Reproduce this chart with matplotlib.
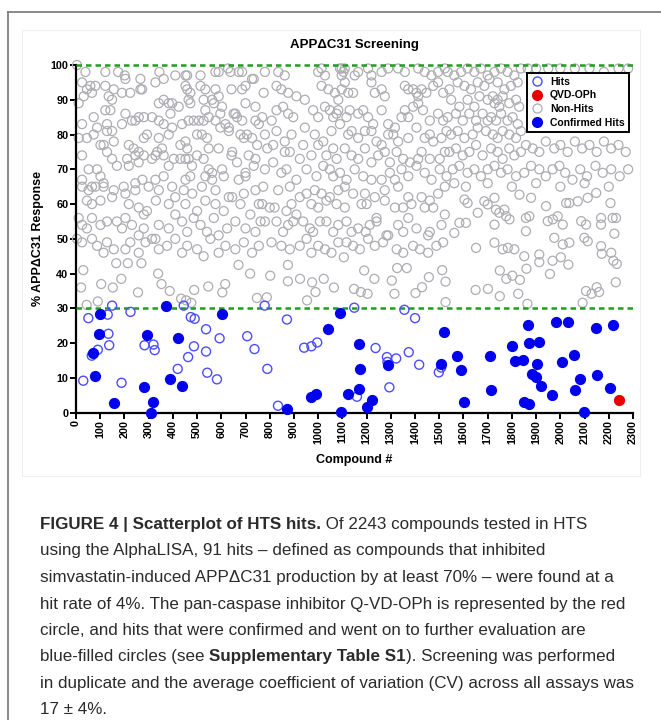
import matplotlib
matplotlib.use('Agg')
import matplotlib.pyplot as plt
from matplotlib.lines import Line2D
from matplotlib.patches import Rectangle
import numpy as np

# Non-hits (gray open circles) as (compound #, % response)
nonhits_top = [
    (4,100),(39,98),(121,98),(174,98),(201,97),(204,96),(266,96),(344,98),(410,97),(452,97),(459,97),(514,97),(576,98),(589,98),(628,99),(638,98),(672,98),(686,98),(734,96),
    (25,95),(45,93),(59,94),(80,94),(121,94),(135,91),(156,93),(190,92),(224,92),(266,93),(273,93),(328,95),(362,96),(452,94),(459,93),(472,92),(514,94),(534,93),(576,93),(589,91),(642,93),(686,93),(700,94),(727,96),
    (11,89),(32,91),(66,92),(121,87),(142,87),(149,90),(342,89),(362,90),(383,89),(397,89),(424,88),(465,90),(472,89),(527,90),(562,90),(569,89),(603,88),(596,86),(651,86),(665,85),(700,89),(741,88),
    (25,83),(73,85),(87,82),(128,83),(204,86),(231,84),(245,84),(259,85),(280,85),(314,85),(342,84),(362,83),(390,86),(438,83),(465,84),(486,84),(507,84),(527,84),(534,87),(548,85),(576,84),(596,82),(617,83),(631,82),(658,86),(686,84),(706,80),(741,84),(755,83),
    (11,79),(45,79),(73,80),(101,77),(114,77),(128,81),(149,81),(156,78),(190,83),(218,77),(238,76),(259,75),(280,79),(293,80),(328,74),(342,79),(355,76),(383,80),(397,82),(431,77),(452,78),(459,76),(500,80),(520,80),(541,79),(548,76),(589,76),(631,81),(645,75),(679,80),(693,79),(727,79),(748,77),
    (25,74),(52,70),(87,70),(101,68),(128,75),(149,73),(169,71),(211,73),(218,71),(245,74),(259,72),(280,74),(314,73),(335,75),(362,74),(383,71),(404,73),(431,73),(452,73),(465,73),(479,71),(500,74),(527,73),(548,70),(562,69),(603,70),(610,68),(642,74),(665,72),(700,69),(713,74),(734,71),(741,73),
    (25,67),(66,65),(114,65),(197,65),(245,66),(274,67),(328,67),(362,68),(452,67),(472,68),(534,68),(562,67),(672,67),(700,68),
    (780,98),(835,98),(862,97),(1000,98),(1014,99),(1028,97),(1090,99),(1097,99),(1104,98),(1110,99),(1097,97),(1151,97),(1165,98),(1206,99),(1220,97),(1262,98),(1289,99),(1330,99),(1358,98),(1413,99),(1440,98),(1468,97),(1495,98),(1523,99),
    (775,92),(828,94),(848,93),(876,92),(910,91),(945,90),(1014,94),(1042,93),(1069,92),(1083,90),(1097,93),(1110,95),(1124,92),(1144,92),(1220,95),(1234,92),(1262,93),(1275,91),(1358,94),(1372,93),(1392,93),(1406,92),(1413,91),(1427,93),(1447,92),(1475,94),(1495,95),(1516,92),
    (769,85),(808,84),(828,87),(855,88),(876,86),(897,85),(979,87),(1000,85),(1028,88),(1048,87),(1062,85),(1076,86),(1083,87),(1117,85),(1130,87),(1165,86),(1186,87),(1206,85),(1227,83),(1262,87),(1289,83),(1317,82),(1344,85),(1358,87),(1372,85),(1392,88),(1413,89),(1433,87),(1461,84),(1495,86),(1516,84),
    (780,80),(828,81),(862,78),(890,80),(945,82),(986,80),(1021,78),(1055,81),(1090,83),(1124,80),(1138,81),(1165,79),(1193,81),(1220,81),(1241,78),(1262,77),(1289,80),(1310,80),(1330,78),(1372,79),(1406,82),(1440,79),(1461,80),(1475,78),(1509,79),(1530,81),
    (790,76),(814,77),(862,75),(883,75),(924,73),(938,77),(972,74),(1000,77),(1034,74),(1062,76),(1076,73),(1110,76),(1138,74),(1165,73),(1193,76),(1220,72),(1248,74),(1275,75),(1296,72),(1324,75),(1351,73),(1379,72),(1413,73),(1427,75),(1461,73),(1502,73),(1523,75),
    (780,70),(814,72),(848,69),(869,70),(910,67),(952,70),(993,68),(1021,71),(1048,70),(1062,68),(1090,69),(1117,67),(1151,70),(1186,68),(1220,67),(1262,67),(1296,69),(1317,67),(1344,70),(1372,68),(1406,71),(1440,69),(1468,67),(1502,70),(1530,68),
    (1535,98),(1562,97),(1590,98),(1617,99),(1645,98),(1672,99),(1700,97),(1728,98),(1755,99),(1782,98),(1810,97),(1837,99),(1865,99),(1900,99),(1950,99),(2000,99),(2060,99),(2120,99),(2180,98),(2240,99),(2280,99),
    (1542,93),(1576,95),(1604,94),(1631,93),(1659,95),(1686,94),(1707,96),(1741,95),(1769,93),(1796,94),(1824,95),
    (1549,90),(1583,88),(1617,90),(1645,88),(1666,91),(1700,90),(1721,91),(1728,89),(1741,90),(1748,88),(1762,91),(1789,89),(1817,90),(1830,88),
    (1535,85),(1569,86),(1597,84),(1624,86),(1652,84),(1679,86),(1700,84),(1714,85),(1735,84),(1755,86),(1782,84),(1803,85),(1824,83),
    (1549,80),(1576,81),(1604,79),(1638,80),(1659,82),(1693,81),(1721,80),(1741,79),(1762,81),(1789,80),(1817,79),(1837,81),
    (1542,75),(1569,76),(1597,74),(1624,75),(1652,77),(1679,74),(1714,76),(1741,75),(1762,73),(1789,76),(1810,74),(1837,75),(1858,77),(1886,76),(1913,75),(1940,78),(1975,76),(2000,77),(2030,75),(2060,78),(2090,76),(2120,77),(2150,75),(2180,78),(2210,76),(2240,77),(2270,75),
    (1556,70),(1583,71),(1617,69),(1645,70),(1672,68),(1700,70),(1728,71),(1755,69),(1782,70),(1817,68),(1851,69),(1879,71),(1913,70),(1940,68),(1968,70),(1996,71),(2020,69),(2050,67),(2082,70),(2110,68),(2145,71),(2175,69),(2210,70),(2245,68),(2280,70),
    (1562,66),(1610,65),(1700,66),(1800,65),(1900,66),(2000,65),(2100,66),(2200,65),
]

nonhits_mid = [
    (25,65),(52,64),(80,65),(114,66),(156,64),(204,63),(245,64),(300,65),(342,64),(397,65),(445,64),(480,63),(520,65),(576,64),(631,62),(693,63),(741,64),
    (45,61),(66,60),(101,61),(149,62),(218,60),(259,59),(280,57),(293,58),(330,61),(383,60),(410,62),(452,60),(500,58),(534,61),(576,60),(610,58),(645,62),(679,60),(720,57),(755,60),
    (11,56),(25,54),(45,53),(66,56),(101,54),(128,55),(169,55),(190,53),(204,56),(231,54),(259,51),(280,53),(328,50),(342,54),(383,53),(410,57),(438,55),(459,52),(486,56),(514,54),(541,52),(569,56),(589,51),(624,53),(658,55),(700,53),(741,52),(762,55),
    (4,50),(25,49),(66,50),(87,48),(114,46),(128,49),(156,47),(204,47),(224,49),(259,46),(287,49),(314,50),(342,47),(376,48),(410,50),(438,46),(459,48),(500,47),(527,45),(555,50),(589,46),(617,48),(658,47),(693,49),(727,46),(755,48),
    (773,65),(835,64),(883,65),(924,62),(952,63),(986,64),(1014,63),(1048,62),(1083,64),(1110,65),(1144,63),(1193,63),(1234,62),(1275,64),(1330,65),(1372,62),(1427,62),(1461,61),(1495,63),(1523,65),
    (769,60),(800,59),(820,59),(869,58),(890,60),(910,57),(972,60),(1000,59),(1034,61),(1076,60),(1110,59),(1179,60),(1200,60),(1241,56),(1275,61),(1317,59),(1351,59),(1385,60),(1440,59),(1475,59),(1523,57),
    (780,55),(828,55),(855,52),(876,54),(897,55),(938,55),(966,53),(979,52),(1007,55),(1034,55),(1062,52),(1083,54),(1117,55),(1138,52),(1165,53),(1196,52),(1213,54),(1241,55),(1282,51),(1330,54),(1351,52),(1372,56),(1406,53),(1454,51),(1461,52),(1509,54),
    (807,49),(848,48),(883,47),(924,48),(952,50),(972,46),(1000,48),(1028,47),(1055,46),(1083,49),(1117,49),(1144,48),(1172,47),(1206,50),(1234,48),(1268,49),(1289,51),(1324,47),(1351,46),(1392,48),(1420,47),(1454,46),(1488,48),(1516,49),
    (1604,61.3),(1617,60.3),(1659,57.5),(1686,60.8),(1700,59.9),(1728,61.8),(1734,58.4),(1748,57.5),(1769,58.4),(1776,56.5),(1790,55.6),(1831,62.7),(1879,61.8),(1858,56),(1872,56.5),
    (1941,59.4),(1948,55.1),(1969,55.6),(1989,56.5),(2010,54.1),(2024,60.3),(2037,60.3),(2072,60.8),(2086,55.1),(2106,54.1),(2113,61.8),(2148,63.2),(2168,56),(2216,56),(2230,56),(2207,60.3),(2168,54.1),(2223,51.5),
    (1562,51.7),(1583,54.6),(1610,54.6),(1728,54.1),(1652,47.4),(1728,48.9),(1762,47),(1783,47.4),(1810,47),(1858,52.2),(1975,50.3),(2010,48.4),(2037,48.9),(2099,50.3),(2113,49.3),(2168,47.9),(2210,46),
]

nonhits_low = [
    (21,36),(30,41),(44,31),(90,32),(104,37),(152,36),(166,43),(187,38.5),(214,43),(256,34.6),(270,43),(339,40),(353,37),(387,35),
    (434,32.8),(455,32.3),(476,31.6),(488,35.3),(546,36.3),(604,34.6),(616,37),(671,42.5),(719,40),(747,33),(788,33.2),(802,39.4),
    (875,37.8),(875,42.5),(925,38.5),(954,32.3),(975,37.5),(989,34.7),(1023,38.5),(1065,36),(1106,44.7),(1148,35.6),(1176,34.7),
    (1190,40.9),(1232,38.5),(1204,34.2),(1304,38),(1315,34.2),(1326,41.6),(1366,41.6),(1402,34.4),(1429,36.1),(1457,39),(1512,41),
    (1526,37.7),(1526,31.8),(1650,35.3),(1701,35.6),(1750,33.5),(1750,40.9),(1777,38.5),(1802,39.4),(1826,34.2),(1833,38.2),(1860,41.4),
    (1864,31.3),(1913,43.3),(1957,39.9),(1968,43.7),(2002,44.7),(2033,42.6),(2092,31.6),(2106,35),(2129,34.2),(2150,36.1),(2160,34.7),
    (2171,45.7),(2229,37.5),(2219,43.7),(2233,42.8),(1851,45),(1913,45.5),
]

# Hits (blue open circles)
hits_x = [30, 51, 65, 90, 131, 134, 137, 149, 188, 225, 283, 320, 325, 420, 445, 463, 474, 487, 490, 537, 537, 542, 582, 593,
          707, 737, 779, 790, 834, 871, 942, 972, 996, 1149, 1160, 1237, 1284, 1286, 1322, 1294, 1356, 1374, 1400, 1417, 1498, 1508]
hits_y = [9.2, 27.2, 16.4, 18.1, 28.2, 22.7, 19.4, 30.8, 8.6, 29.0, 19.4, 19.6, 18.0, 12.6, 30.8, 16.0, 27.5, 19.1, 27.0, 24.0, 17.6, 11.5, 9.6, 21.4,
          22.0, 18.3, 30.8, 12.6, 2.0, 26.8, 18.7, 19.1, 20.2, 30.2, 4.6, 18.6, 16.0, 14.6, 15.6, 7.3, 29.6, 17.4, 27.2, 13.8, 11.6, 13.0]

# Confirmed hits (blue filled)
conf_x = [69, 79, 93, 100, 155, 282, 292, 308, 318, 371, 390, 420, 438, 604, 873, 970, 989, 1039, 1090, 1093, 1124, 1169, 1173, 1169,
          1200, 1221, 1288, 1508, 1520, 1572, 1588, 1602, 1711, 1715, 1802, 1812, 1844, 1848, 1867, 1869, 1871, 1902, 1913, 1884, 1900,
          1921, 1965, 1980, 2005, 2031, 2055, 2062, 2083, 2099, 2148, 2150, 2204, 2217]
conf_y = [17.2, 10.6, 22.7, 28.4, 2.8, 7.5, 22.3, 0.0, 3.0, 30.6, 9.8, 21.6, 7.6, 28.5, 1.1, 4.4, 5.5, 24.0, 28.8, 0.1, 5.4, 19.8, 12.7, 6.9,
          1.5, 3.6, 13.8, 14.1, 23.3, 16.4, 12.3, 3.1, 16.4, 6.5, 19.3, 15.0, 15.1, 3.2, 25.2, 2.6, 20.1, 14.1, 20.2, 11.0, 10.3,
          7.7, 5.0, 26.1, 14.7, 26.1, 16.5, 6.4, 9.7, 0.3, 24.5, 10.9, 7.0, 25.3]

# Q-VD-OPh control
qvd_x = [2243]
qvd_y = [3.6]

thresholds = [30, 100]
yticks = list(range(0, 101, 10))
xticks = list(range(0, 2301, 100))

caption_lines = [
    [("FIGURE 4 | Scatterplot of HTS hits.", "bold"), (" Of 2243 compounds tested in HTS", "normal")],
    [("using the AlphaLISA, 91 hits \u2013 defined as compounds that inhibited", "normal")],
    [("simvastatin-induced APP\u0394C31 production by at least 70% \u2013 were found at a", "normal")],
    [("hit rate of 4%. The pan-caspase inhibitor Q-VD-OPh is represented by the red", "normal")],
    [("circle, and hits that were confirmed and went on to further evaluation are", "normal")],
    [("blue-filled circles (see ", "normal"), ("Supplementary Table S1", "bold"), ("). Screening was performed", "normal")],
    [("in duplicate and the average coefficient of variation (CV) across all assays was", "normal")],
    [("17 \u00b1 4%.", "normal")],
]

W, H = 661, 720
plt.rcParams['font.family'] = ['Liberation Sans', 'DejaVu Sans']

GRAY = '#adadb3'
HIT = '#4d4dff'
CONF = '#0000ee'
RED = '#e60000'
GREEN = '#1f9e1f'

fig = plt.figure(figsize=(W / 100, H / 100), dpi=100)

# outer frame of the figure panel (cropped at right and bottom)
fig.add_artist(Line2D([8 / W, 1.01], [1 - 12 / H, 1 - 12 / H], color='#777777', lw=1.2))
fig.add_artist(Line2D([8 / W, 8 / W], [1 - 12 / H, -0.01], color='#777777', lw=1.2))
# faint edge of the embedded chart image
fig.add_artist(Rectangle((22 / W, 1 - 476 / H), (640 - 22) / W, (476 - 30) / H,
                         fill=False, ec='#eeeeee', lw=0.8))

ax = fig.add_axes([76 / W, 1 - 412.7 / H, (633 - 76) / W, (412.7 - 65) / H])

nx = [p[0] for p in nonhits_top + nonhits_mid + nonhits_low]
ny = [p[1] for p in nonhits_top + nonhits_mid + nonhits_low]

ax.scatter(nx, ny, s=42, facecolors='none', edgecolors=GRAY, linewidths=0.9, clip_on=False, zorder=2)
for t in thresholds:
    ax.axhline(t, color=GREEN, lw=1.8, ls=(0, (2.2, 1.6)), zorder=3, clip_on=False)
ax.scatter(hits_x, hits_y, s=42, facecolors='none', edgecolors=HIT, linewidths=1.0, clip_on=False, zorder=4)
ax.scatter(conf_x, conf_y, s=50, color=CONF, edgecolors=CONF, clip_on=False, zorder=5)
ax.scatter(qvd_x, qvd_y, s=50, color=RED, edgecolors=RED, clip_on=False, zorder=6)

ax.set_xlim(0, 2300)
ax.set_ylim(0, 100)
for side in ['top', 'right']:
    ax.spines[side].set_visible(False)
for side in ['left', 'bottom']:
    ax.spines[side].set_linewidth(1.6)
ax.set_yticks(yticks)
ax.set_xticks(xticks)
ax.set_xticklabels([str(v) for v in xticks], rotation=90, fontsize=7.8, fontweight='bold')
ax.set_yticklabels([str(v) for v in yticks], fontsize=7.8, fontweight='bold')
ax.tick_params(axis='both', length=4, width=1.4, pad=1.5)
ax.set_facecolor('none')

ax.set_title('APP\u0394C31 Screening', fontsize=9.5, fontweight='bold', pad=12)
ax.set_ylabel('% APP\u0394C31 Response', fontsize=9, fontweight='bold', labelpad=5)
ax.set_xlabel('Compound #', fontsize=9, fontweight='bold', labelpad=7)

handles = [
    Line2D([], [], marker='o', ls='', mfc='none', mec=HIT, ms=6.5, mew=1.0, label='Hits'),
    Line2D([], [], marker='o', ls='', mfc=RED, mec=RED, ms=7, label='QVD-OPh'),
    Line2D([], [], marker='o', ls='', mfc='none', mec=GRAY, ms=6.5, mew=0.9, label='Non-Hits'),
    Line2D([], [], marker='o', ls='', mfc=CONF, mec=CONF, ms=7, label='Confirmed Hits'),
]
leg = ax.legend(handles=handles, loc='upper right', bbox_to_anchor=(0.992, 0.978),
                prop={'weight': 'bold', 'size': 7.5}, frameon=True, fancybox=False,
                borderpad=0.4, labelspacing=0.35, handletextpad=0.6, handlelength=1.2,
                borderaxespad=0)
leg.get_frame().set_edgecolor('black')
leg.get_frame().set_linewidth(1.4)
leg.get_frame().set_alpha(1)
leg.set_zorder(10)

# caption, drawn line by line with mixed bold segments
renderer = fig.canvas.get_renderer()
cap_size = 11.3
probe = fig.text(0, 0, caption_lines[3][0][0], fontsize=cap_size)
width = probe.get_window_extent(renderer=renderer).width
probe.remove()
cap_size = cap_size * (627 - 40) / width

for i, line in enumerate(caption_lines):
    x = 40
    y = 529 + i * 26.5
    for txt, weight in line:
        t = fig.text(x / W, 1 - y / H, txt, fontsize=cap_size, fontweight=weight,
                     color='#2b2b2b', ha='left', va='baseline')
        x += t.get_window_extent(renderer=renderer).width

fig.savefig('out.png', dpi=100)
